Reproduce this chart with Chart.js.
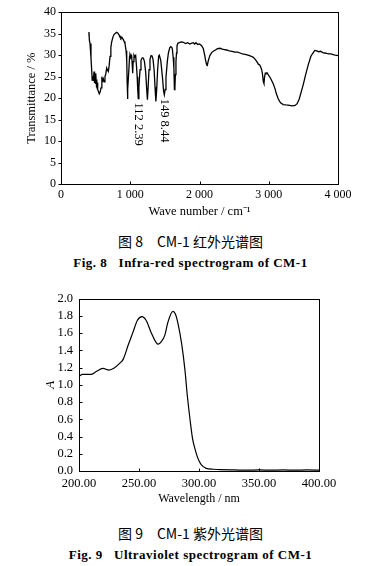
<!DOCTYPE html>
<html><head><meta charset="utf-8">
<script src="https://cdn.jsdelivr.net/npm/chart.js@4"></script>
<style>
html,body{margin:0;padding:0;background:#fff;}
body{width:381px;height:566px;position:relative;overflow:hidden;}
.box{position:absolute;left:0;width:381px;height:225px;}
.cap{position:absolute;left:0;width:381px;text-align:center;color:#000;white-space:pre;line-height:18px;height:18px;}
.cn{font-family:"Noto Sans CJK SC","Noto Sans CJK JP",sans-serif;font-size:14px;}
.en{font-family:"Liberation Serif",serif;font-weight:bold;font-size:13px;letter-spacing:0.5px;}
</style></head>
<body>
<div class="box" style="top:0"><canvas id="ir" width="381" height="225"></canvas></div>
<div class="cap cn" style="top:232px">图 8　CM-1 红外光谱图</div>
<div class="cap en" style="top:254px">Fig. 8   Infra-red spectrogram of CM-1</div>
<div class="box" style="top:285px"><canvas id="uv" width="381" height="225"></canvas></div>
<div class="cap cn" style="top:524px">图 9　CM-1 紫外光谱图</div>
<div class="cap en" style="top:546px">Fig. 9   Ultraviolet spectrogram of CM-1</div>
<script>
// ---------- IR spectrum data ----------
const irWave = [400,404,410,419,433,443,450,458,466,477,484,491,498,505,512,520,530,539,553,565,578,590,597,610,621,635,645,660,669,683,695,708,720,732,750,765,785,804,822,842,852,860,866,880,900,912,924,940,949,955,960,966,978,990,996,1005,1012,1021,1028,1035,1042,1054,1066,1078,1090,1100,1108,1116,1125,1141,1155,1174,1190,1205,1223,1236,1248,1258,1271,1285,1300,1315,1329,1345,1358,1370,1382,1395,1410,1420,1440,1455,1468,1480,1492,1504,1516,1535,1550,1570,1584,1600,1608,1620,1630,1638,1645,1652,1660,1668,1675,1690,1708,1740,1766,1800,1830,1860,1890,1911,1930,1950,1975,2000,2031,2055,2075,2090,2105,2113,2125,2150,2175,2199,2230,2260,2296,2330,2360,2392,2430,2470,2510,2550,2585,2620,2660,2700,2740,2777,2810,2835,2849,2870,2885,2898,2910,2922,2931,2940,2950,2960,2975,2994,3020,3045,3066,3090,3110,3138,3170,3210,3250,3300,3340,3379,3410,3440,3470,3499,3530,3571,3610,3643,3665,3692,3720,3750,3780,3810,3837,3870,3900,3930,3960,4000];
const irTrans = [34.5,35.4,33.5,32.7,29.3,26.6,24.2,25.1,24.0,26.2,23.5,24.2,23.3,25.8,23.0,23.6,22.0,21.6,21.0,21.4,22.4,25.0,23.9,24.5,23.8,25.0,25.5,27.0,26.6,26.2,27.5,29.7,31.8,33.1,34.2,34.8,35.1,35.3,35.1,34.6,34.2,34.5,33.9,34.1,33.6,33.2,32.7,31.0,28.9,24.0,19.8,22.0,26.0,29.7,30.0,29.5,30.0,29.6,28.0,25.8,28.5,30.0,29.6,29.9,27.5,25.0,22.0,19.9,22.5,26.6,28.8,29.4,29.3,28.5,26.0,22.5,19.6,22.5,26.6,29.0,29.9,29.8,29.0,26.5,22.5,19.2,22.0,26.5,29.8,30.0,28.8,26.5,24.3,21.8,20.8,22.0,24.8,28.5,30.4,31.7,32.0,31.8,31.4,29.5,27.0,22.0,22.5,25.5,28.5,30.5,32.2,32.8,32.9,33.1,33.0,32.7,32.9,32.6,32.8,32.9,32.6,32.9,32.5,32.6,32.2,31.5,30.0,28.6,27.7,27.6,28.6,29.9,30.6,30.9,31.2,31.5,31.6,31.4,31.3,31.2,31.0,30.9,30.7,30.7,30.5,30.3,30.2,30.0,29.8,29.5,28.9,28.3,27.9,27.7,27.2,26.6,25.5,23.8,23.4,25.0,25.8,25.7,25.9,25.4,24.8,24.0,23.3,22.2,21.0,19.8,18.9,18.5,18.4,18.3,18.2,18.3,18.7,19.8,21.5,23.2,25.3,27.8,29.8,30.6,31.1,31.0,30.8,30.9,30.6,30.5,30.4,30.3,30.3,30.1,30.0,29.9];
const irXTicks = [0,1000,2000,3000,4000];
const irXTickLabels = ['0','1 000','2 000','3 000','4 000'];
const irYTicks = [0,5,10,15,20,25,30,35,40];
const irYTickLabels = ['0','5','10','15','20','25','30','35','40'];
const irPeakWave = [1122.39, 1498.44];
const irPeakTrans = [19.9, 20.8];
const irPeakLabels = ['112 2.39', '149 8.44'];

// ---------- UV spectrum data ----------
const uvWave = [200,203,210,214,220,225,229,234,237,241,245,248.6,252.5,256,260,263,266,268.6,271.4,274.2,278.3,280.3,282.5,285.5,288.3,290.3,292.5,294.7,297,298.5,300.3,302,306,312,318,330,340,350,360,370,380,390,400];
const uvAbs = [1.10,1.12,1.12,1.15,1.19,1.17,1.19,1.25,1.30,1.46,1.61,1.745,1.79,1.745,1.61,1.52,1.47,1.50,1.57,1.73,1.85,1.82,1.71,1.48,1.17,0.87,0.60,0.37,0.24,0.17,0.11,0.07,0.03,0.02,0.015,0.012,0.01,0.012,0.01,0.012,0.01,0.012,0.01];
const uvXTicks = [200,250,300,350,400];
const uvXTickLabels = ['200.00','250.00','300.00','350.00','400.00'];
const uvYTicks = [0,0.2,0.4,0.6,0.8,1.0,1.2,1.4,1.6,1.8,2.0];
const uvYTickLabels = ['0.0','0.2','0.4','0.6','0.8','1.0','1.2','1.4','1.6','1.8','2.0'];

const SERIF = '"Liberation Serif", "Times New Roman", serif';

function labelFor(ticks, labels) {
  return (v) => {
    const i = ticks.findIndex(t => Math.abs(t - v) < 1e-6);
    return i >= 0 ? labels[i] : '';
  };
}

const framePlugin = {
  id: 'frameTicks',
  afterDraw(chart, args, opts) {
    const {ctx, chartArea: a, scales} = chart;
    ctx.save();
    ctx.strokeStyle = '#000';
    ctx.lineWidth = 1;
    const L = Math.round(a.left) + 0.5, T = Math.round(a.top) + 0.5;
    const R = Math.round(a.right) + 0.5, B = Math.round(a.bottom) + 0.5;
    ctx.strokeRect(L, T, R - L, B - T);
    ctx.beginPath();
    scales.x.ticks.forEach(t => {
      const px = Math.round(scales.x.getPixelForValue(t.value)) + 0.5;
      ctx.moveTo(px, B); ctx.lineTo(px, B + opts.xTick);
    });
    scales.y.ticks.forEach(t => {
      const py = Math.round(scales.y.getPixelForValue(t.value)) + 0.5;
      ctx.moveTo(L, py); ctx.lineTo(L + opts.yTick, py);
    });
    ctx.stroke();
    ctx.restore();
  }
};

const peakPlugin = {
  id: 'peakLabels',
  afterDatasetsDraw(chart, args, opts) {
    if (!opts.labels) return;
    const {ctx, scales} = chart;
    ctx.save();
    ctx.fillStyle = '#000';
    ctx.font = opts.font;
    ctx.textAlign = 'left';
    ctx.textBaseline = 'middle';
    opts.labels.forEach((lab, i) => {
      const px = scales.x.getPixelForValue(opts.xs[i]);
      const py = scales.y.getPixelForValue(opts.ys[i]) + opts.gap;
      ctx.save();
      ctx.translate(px, py);
      ctx.rotate(Math.PI / 2);
      ctx.fillText(lab, 0, 0);
      ctx.restore();
    });
    ctx.restore();
  }
};

function makeChart(id, cfg) {
  return new Chart(document.getElementById(id), {
    type: 'scatter',
    data: {
      datasets: [{
        data: cfg.xs.map((x, i) => ({x, y: cfg.ys[i]})),
        showLine: true,
        borderColor: '#000',
        borderWidth: cfg.lw,
        pointRadius: 0,
        cubicInterpolationMode: cfg.monotone ? 'monotone' : 'default',
        tension: 0
      }]
    },
    options: {
      responsive: false,
      animation: false,
      events: [],
      layout: {padding: cfg.pad},
      plugins: {
        legend: {display: false},
        tooltip: {enabled: false},
        frameTicks: {xTick: cfg.xTick, yTick: cfg.yTick},
        peakLabels: cfg.peaks || {}
      },
      scales: {
        x: {
          type: 'linear', min: cfg.xMin, max: cfg.xMax,
          afterBuildTicks: (s) => { s.ticks = cfg.xTicks.map(v => ({value: v})); },
          ticks: {callback: labelFor(cfg.xTicks, cfg.xLabels), color: '#000', font: {family: SERIF, size: cfg.tickSize}, padding: cfg.xPad, maxRotation: 0, autoSkip: false},
          grid: {display: false, drawTicks: false},
          border: {display: false},
          title: {display: true, text: cfg.xTitle, color: '#000', font: {family: SERIF, size: cfg.titleSize}, padding: {top: 0, bottom: cfg.xTitlePad}},
          afterFit: (s) => { s.height = cfg.xH; }
        },
        y: {
          type: 'linear', min: cfg.yMin, max: cfg.yMax,
          afterBuildTicks: (s) => { s.ticks = cfg.yTicks.map(v => ({value: v})); },
          ticks: {callback: labelFor(cfg.yTicks, cfg.yLabels), color: '#000', font: {family: SERIF, size: cfg.tickSize}, padding: cfg.yPad, autoSkip: false},
          grid: {display: false, drawTicks: false},
          border: {display: false},
          title: {display: true, text: cfg.yTitle, color: '#000', font: {family: SERIF, size: cfg.yTitleSize, style: cfg.yTitleStyle}, padding: {top: cfg.yTitlePad, bottom: 0}},
          afterFit: (s) => { s.width = cfg.yW; }
        }
      }
    },
    plugins: [framePlugin, peakPlugin]
  });
}

makeChart('ir', {
  xs: irWave, ys: irTrans, lw: 1.3, monotone: false,
  pad: {left: 0, right: 43, top: 10, bottom: 0},
  xMin: 0, xMax: 4000, yMin: 0, yMax: 40,
  xTicks: irXTicks, xLabels: irXTickLabels, yTicks: irYTicks, yLabels: irYTickLabels,
  tickSize: 12, titleSize: 12.5, yTitleSize: 12.5, yTitleStyle: 'normal',
  xPad: 4, yPad: 5, xTick: -3, yTick: -3,
  xTitle: 'Wave number / cm\u207B\u00B9', xTitlePad: 6, xH: 41,
  yTitle: 'Transmittance / %', yTitlePad: 24, yW: 61,
  peaks: {labels: irPeakLabels, xs: irPeakWave, ys: irPeakTrans, gap: 4, font: '12.5px ' + SERIF}
});

makeChart('uv', {
  xs: uvWave, ys: uvAbs, lw: 1.2, monotone: true,
  pad: {left: 0, right: 62, top: 11, bottom: 0},
  xMin: 200, xMax: 400, yMin: 0, yMax: 2,
  xTicks: uvXTicks, xLabels: uvXTickLabels, yTicks: uvYTicks, yLabels: uvYTickLabels,
  tickSize: 12.5, titleSize: 12, yTitleSize: 13, yTitleStyle: 'italic',
  xPad: 5, yPad: 6, xTick: -3, yTick: 3,
  xTitle: 'Wavelength / nm', xTitlePad: 4, xH: 39,
  yTitle: 'A', yTitlePad: 43, yW: 79
});
</script>
</body></html>
